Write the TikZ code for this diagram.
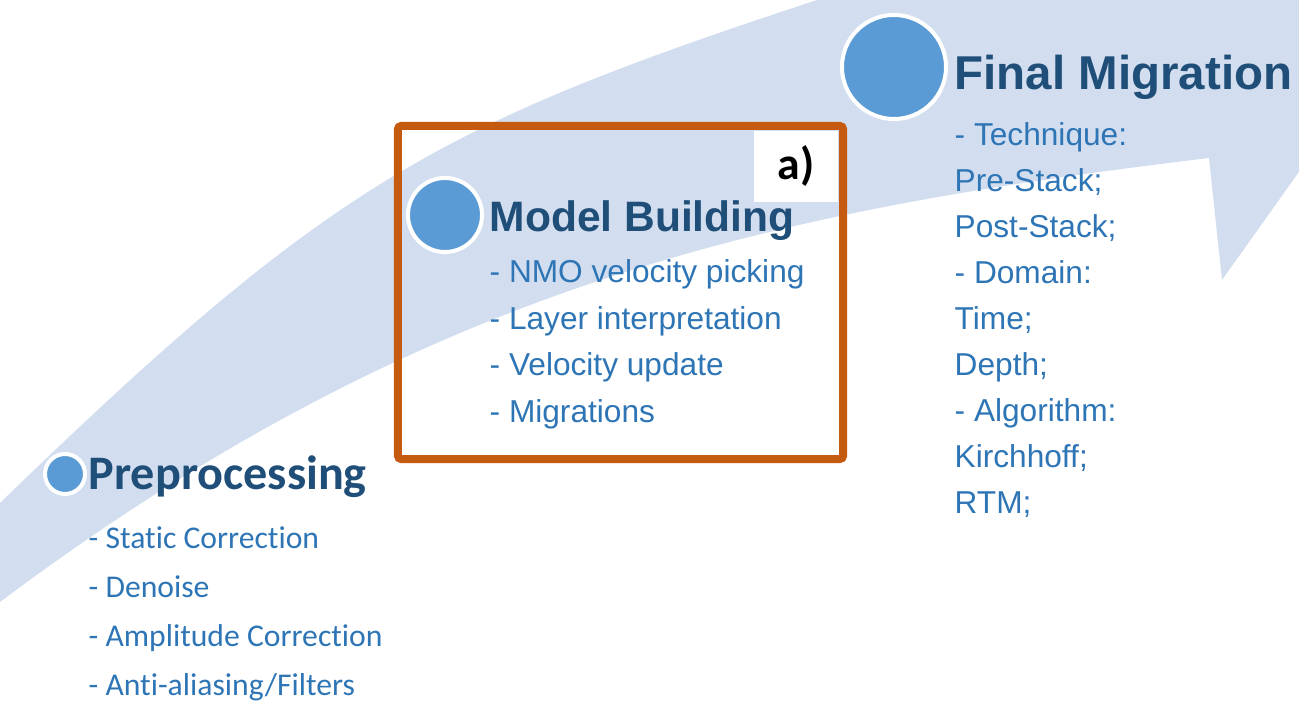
\documentclass[tikz,border=0pt]{standalone}
\usepackage{fontspec}
\setmainfont{Liberation Sans}
\newfontfamily\calibri[Ligatures=NoCommon]{Carlito}
\usetikzlibrary{positioning}
\definecolor{bandblue}{HTML}{D2DEEF}
\definecolor{dotblue}{HTML}{5B9BD5}
\definecolor{headblue}{HTML}{1F4E79}
\definecolor{itemblue}{HTML}{2E75B6}
\definecolor{frameorange}{HTML}{C55A11}

\begin{document}
\begin{tikzpicture}[
    x=0.01cm, y=-0.01cm,
    dot/.style={circle, fill=dotblue, draw=white, line width=0.04cm, inner sep=0pt},
    head/.style={anchor=base west, inner sep=0pt, text=headblue,
      font=\bfseries\fontsize{#1}{#1}\selectfont},
    item/.style={anchor=base west, inner sep=0pt, text=itemblue,
      font=\fontsize{9}{11}\selectfont},
    pphead/.style={head=13.7, font=\calibri\bfseries\fontsize{13.7}{16}\selectfont},
    ppitem/.style={item, font=\calibri\fontsize{9}{11}\selectfont},
    frame/.style={draw=frameorange, line width=0.08cm, rounded corners=1pt},
    tag/.style={fill=white, inner sep=0pt, minimum width=0.84cm, minimum height=0.71cm,
      font=\calibri\bfseries\fontsize{13}{15}\selectfont},
  ]
  \useasboundingbox (0,0) rectangle (1299,710);

  % Curved arrow behind the stages
  \begin{scope}
    \clip (0,0) rectangle (1299,710);
    \fill[bandblue] (0,602) .. controls (430,280) and (780,210) .. (1209,158)
      -- (1222,280) -- (1400,30) -- (1170,-200) -- (1190,-70) -- (817,0)
      .. controls (437,125) and (330,183) .. (0,503) -- cycle;
  \end{scope}

  % Stage 1: Preprocessing
  \node[dot, minimum size=0.4cm] (ppdot) at (65,474) {};
  \node[pphead] (pp) at (88,490) {Preprocessing};
  \foreach \txt [count=\i from 0] in {- Static Correction, - Denoise,
      - Amplitude Correction, - Anti-aliasing/Filters}
    \node[ppitem] (pp\i) at (88,549+48.7*\i) {\txt};

  % Stage 2: Model Building
  \node[dot, minimum size=0.74cm] (mbdot) at (445,215) {};
  \node[head=12.1] (mb) at (489,232) {Model Building};
  \foreach \txt [count=\i from 0] in {- NMO velocity picking, - Layer interpretation,
      - Velocity update, - Migrations}
    \node[item] (mb\i) at (489,283+46.5*\i) {\txt};

  % Stage 3: Final Migration
  \node[dot, minimum size=1.04cm] (fmdot) at (894,67) {};
  \node[head=13.5] (fm) at (954,90) {Final Migration};
  \foreach \txt [count=\i from 0] in {- Technique:, Pre-Stack;, Post-Stack;, - Domain:,
      Time;, Depth;, - Algorithm:, Kirchhoff;, RTM;}
    \node[item] (fm\i) at (954,146+45.9*\i) {\txt};

  % Highlight frame
  \node[frame, minimum width=4.45cm, minimum height=3.33cm] (mbframe) at (620.5,292.5) {};
  \node[tag, anchor=north east] (tag) at (839,130) {a)};
\end{tikzpicture}
\end{document}
